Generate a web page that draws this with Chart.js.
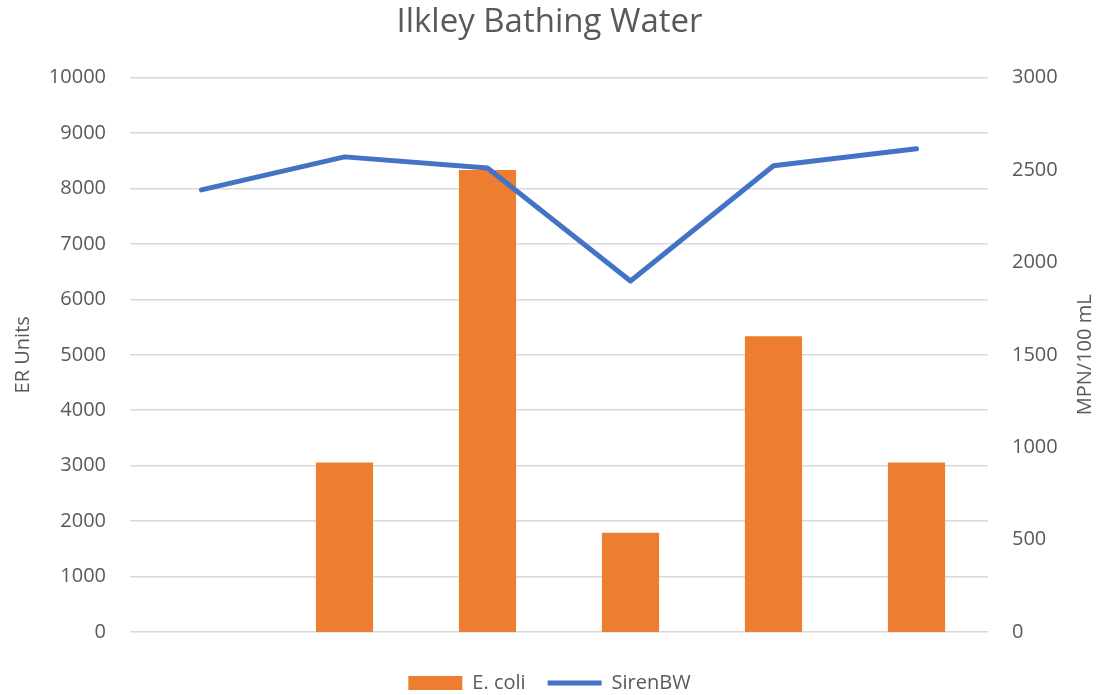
<!DOCTYPE html>
<html>
<head>
<meta charset="utf-8">
<script src="https://cdn.jsdelivr.net/npm/chart.js@4"></script>
<style>
  body { margin: 0; background: #fff; }
  #wrap { width: 1099px; height: 695px; }
</style>
</head>
<body>
<div id="wrap"><canvas id="chart"></canvas></div>
<script>
// samples
const samples = ['1', '2', '3', '4', '5', '6'];
const ecoli = [null, 917, 2500, 537, 1600, 917];        // MPN/100 mL, right axis
const sirenBW = [7975, 8570, 8370, 6330, 8410, 8715];   // ER Units, left axis
const leftTicks = [0, 1000, 2000, 3000, 4000, 5000, 6000, 7000, 8000, 9000, 10000];
const rightTicks = [0, 500, 1000, 1500, 2000, 2500, 3000];

const grey = '#595959';
const font = 'Open Sans';

// right axis title reads bottom to top, like the left one
const rightTitle = {
	id: 'rightTitle',
	afterDraw(chart) {
		let s = chart.scales.y1;
		let c = chart.ctx;
		c.save();
		c.translate(1085, (s.top + s.bottom) / 2);
		c.rotate(-Math.PI / 2);
		c.fillStyle = grey;
		c.font = '20px "' + font + '"';
		c.textAlign = 'center';
		c.textBaseline = 'middle';
		c.fillText('MPN/100 mL', 0, 0);
		c.restore();
	}
};

let ctx = document.getElementById('chart').getContext('2d');
let chart = new Chart(ctx, {
	data: {
		labels: samples,
		datasets: [{
			type: 'bar',
			label: 'E. coli',
			data: ecoli,
			yAxisID: 'y1',
			backgroundColor: '#ED7D31',
			borderWidth: 0,
			barPercentage: 0.4,
			categoryPercentage: 1,
			pointStyle: 'rect',
			order: 2
		}, {
			type: 'line',
			label: 'SirenBW',
			data: sirenBW,
			yAxisID: 'y',
			borderColor: '#4472C4',
			backgroundColor: '#4472C4',
			borderWidth: 5,
			borderCapStyle: 'round',
			borderJoinStyle: 'round',
			pointRadius: 0,
			pointStyle: 'line',
			tension: 0,
			order: 1
		}]
	},
	options: {
		responsive: true,
		maintainAspectRatio: false,
		animation: false,
		layout: { padding: { left: 0, right: 0, top: 0, bottom: -8 } },
		plugins: {
			title: {
				display: true,
				text: 'Ilkley Bathing Water',
				color: grey,
				font: { family: font, size: 33, weight: 'normal' },
				padding: { top: 3, bottom: 35 }
			},
			legend: {
				position: 'bottom',
				labels: {
					usePointStyle: true,
					pointStyleWidth: 54,
					boxHeight: 14,
					color: grey,
					font: { family: font, size: 20 },
					padding: 22,
					sort: (a, b) => a.datasetIndex - b.datasetIndex
				}
			},
			tooltip: { enabled: false }
		},
		scales: {
			x: {
				offset: true,
				grid: { display: false },
				border: { display: false },
				ticks: { display: false },
				afterFit: (scale) => { scale.height = 19; }
			},
			y: {
				position: 'left',
				min: 0,
				max: 10000,
				afterBuildTicks: (scale) => { scale.ticks = leftTicks.map(v => ({ value: v })); },
				grid: { color: '#d9d9d9', lineWidth: 1.5, drawTicks: false },
				border: { display: false },
				ticks: { color: grey, font: { family: font, size: 20 }, padding: 24, callback: (v) => String(v) },
				title: { display: true, text: 'ER Units', color: grey, font: { family: font, size: 20 }, padding: 11 },
				afterFit: (scale) => { scale.width = 130; }
			},
			y1: {
				position: 'right',
				min: 0,
				max: 3000,
				afterBuildTicks: (scale) => { scale.ticks = rightTicks.map(v => ({ value: v })); },
				grid: { display: false },
				border: { display: false },
				ticks: { color: grey, font: { family: font, size: 20 }, padding: 16, callback: (v) => String(v) },
				title: { display: false },
				afterFit: (scale) => { scale.width = 111; }
			}
		}
	},
	plugins: [rightTitle]
});
</script>
</body>
</html>
